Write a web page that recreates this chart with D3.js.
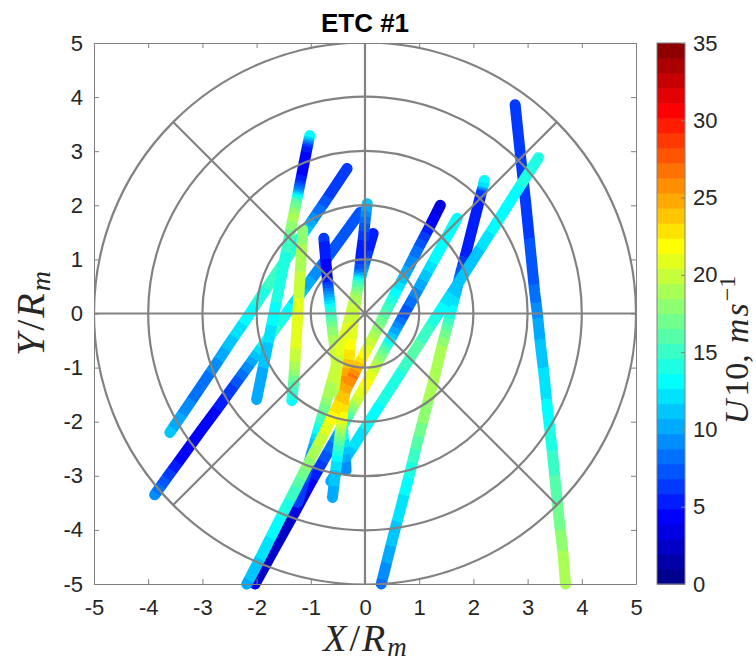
<!DOCTYPE html>
<html>
<head>
<meta charset="utf-8">
<script src="https://cdn.jsdelivr.net/npm/d3@7/dist/d3.min.js"></script>
<style>
  body { margin: 0; background: #ffffff; }
  svg { display: block; }
</style>
</head>
<body>
<svg id="chart" width="756" height="664"></svg>
<script>
// ---- axes, grid and colour scale settings ----
const axisTicks = [-5, -4, -3, -2, -1, 0, 1, 2, 3, 4, 5];
const ringRadii = [1, 2, 3, 4, 5];
const spokeAngles = [0, 45, 90, 135, 180, 225, 270, 315];
const colorTicks = [0, 5, 10, 15, 20, 25, 30, 35];
const colorDomain = [0, 35];
const colorLevels = 36;

// ---- satellite tracks: [X/Rm, Y/Rm, U10 (m/s)] ----
const trackA = [[2.77,3.86,6],[2.86,3.0,6],[2.97,2.0,6.5],[3.07,1.0,7],[3.13,0.4,8],[3.18,0.0,9.5],[3.24,-0.6,11],[3.31,-1.2,12],[3.37,-1.8,13],[3.45,-2.5,14.5],[3.52,-3.2,16],[3.58,-3.8,17],[3.65,-4.4,18.5],[3.70,-5.0,19]];
const trackB = [[3.20,2.88,14],[2.76,2.2,13.5],[2.38,1.6,13],[2.00,1.0,11],[1.68,0.5,11],[1.42,0.1,13],[1.16,-0.3,15],[0.91,-0.7,16],[0.59,-1.2,14],[0.20,-1.8,13.5],[-0.18,-2.4,12],[-0.44,-2.8,10.5],[-0.63,-3.1,10]];
const trackC = [[2.20,2.46,13],[2.18,2.35,12],[2.15,2.25,6],[2.01,1.7,5],[1.86,1.1,5.5],[1.75,0.7,8],[1.68,0.4,11],[1.60,0.1,13],[1.50,-0.3,16.5],[1.42,-0.6,18.5],[1.25,-1.3,19],[1.09,-1.9,18],[0.96,-2.4,16],[0.84,-2.9,14],[0.71,-3.4,12.5],[0.50,-4.2,11],[0.30,-5.0,8.5]];
const trackD = [[1.39,2.0,3],[1.19,1.6,5],[0.98,1.2,8],[0.78,0.8,10],[0.57,0.4,13],[0.37,0.0,16],[0.17,-0.4,19],[-0.04,-0.8,22],[-0.22,-1.15,26.5],[-0.40,-1.5,24],[-0.60,-1.9,22],[-0.80,-2.3,20],[-1.06,-2.8,18],[-1.31,-3.3,15],[-1.57,-3.8,13.5],[-1.87,-4.4,12],[-2.18,-5.0,10.5]];
const trackE = [[1.70,1.76,13],[1.28,1.0,13],[1.01,0.5,10],[0.73,0.0,7],[0.51,-0.4,11],[0.37,-0.65,16],[0.18,-1.0,20],[0.02,-1.3,22],[-0.15,-1.6,20],[-0.37,-2.0,14],[-0.56,-2.35,9],[-0.76,-2.7,7],[-1.04,-3.2,4],[-1.31,-3.7,3],[-1.70,-4.4,2],[-2.03,-5.0,3]];
const trackF = [[0.15,1.48,5],[0.04,1.1,6],[-0.07,0.7,12],[-0.16,0.4,19],[-0.26,0.0,20],[-0.40,-0.5,21],[-0.54,-1.0,20],[-0.68,-1.5,19],[-0.82,-2.0,15],[-0.96,-2.5,10],[-1.10,-3.0,7],[-1.24,-3.49,6]];
const trackG = [[0.04,2.03,11],[0.00,1.7,8],[-0.03,1.4,6],[-0.07,1.1,5],[-0.10,0.8,8],[-0.13,0.6,15],[-0.16,0.3,19],[-0.20,0.0,20],[-0.25,-0.4,21],[-0.29,-0.8,23],[-0.34,-1.2,25.5],[-0.39,-1.6,24],[-0.43,-2.0,21],[-0.48,-2.4,16],[-0.53,-2.8,12],[-0.60,-3.4,10]];
const trackH = [[-1.02,3.29,13.5],[-1.06,3.1,6],[-1.10,2.9,4],[-1.18,2.5,5],[-1.22,2.3,9],[-1.26,2.1,16],[-1.32,1.8,19],[-1.36,1.6,18],[-1.42,1.3,15],[-1.50,0.9,14],[-1.60,0.4,14],[-1.70,-0.1,13],[-1.80,-0.6,11.5],[-1.90,-1.1,10.5],[-2.00,-1.59,10]];
const trackI = [[-0.33,2.68,6],[-0.65,2.2,6.5],[-0.92,1.8,9],[-1.19,1.4,13],[-1.39,1.1,15],[-1.66,0.7,15.5],[-1.93,0.3,14],[-2.19,-0.1,13],[-2.53,-0.6,11],[-2.79,-1.0,9],[-3.06,-1.4,8],[-3.33,-1.8,9.5],[-3.60,-2.2,11]];
const trackJ = [[-0.76,1.39,6],[-0.73,1.05,5],[-0.70,0.7,4],[-0.67,0.4,9],[-0.64,0.1,14],[-0.60,-0.3,18],[-0.55,-0.7,20],[-0.51,-1.1,21],[-0.47,-1.5,19],[-0.43,-1.9,16],[-0.40,-2.3,13],[-0.36,-2.7,10],[-0.35,-2.9,9]];
const trackK = [[-0.09,1.87,7],[-0.43,1.4,7],[-0.72,1.0,8],[-1.09,0.5,10.5],[-1.38,0.1,13],[-1.67,-0.3,15],[-1.89,-0.6,13],[-2.10,-0.9,10],[-2.39,-1.3,7],[-2.68,-1.7,5],[-3.05,-2.2,4],[-3.41,-2.7,4.5],[-3.63,-3.0,6.5],[-3.88,-3.35,9]];
const trackL = [[-1.15,1.55,18],[-1.18,1.0,19],[-1.21,0.5,20],[-1.24,0.0,21],[-1.27,-0.5,21],[-1.30,-1.0,19],[-1.32,-1.3,16],[-1.35,-1.61,13.5]];

// drawing order (later tracks sit on top)
const tracks = [trackA, trackC, trackB, trackI, trackK, trackH, trackL, trackE, trackJ, trackF, trackG, trackD];

// ---- layout ----
const plot = { left: 94, right: 636, top: 43, bottom: 584 };
const cbar = { left: 657, right: 685, top: 43, bottom: 584 };
const gridColor = "#828282";
const axisColor = "#808080";
const textColor = "#262626";

const svg = d3.select("#chart");
const defs = svg.append("defs");

const x = d3.scaleLinear().domain([-5, 5]).range([plot.left, plot.right]);
const y = d3.scaleLinear().domain([-5, 5]).range([plot.bottom, plot.top]);

// MATLAB-style jet(m) colormap
function jetColors(m) {
  const n = Math.ceil(m / 4);
  const u = [];
  for (let i = 1; i <= n; i++) u.push(i / n);
  for (let i = 1; i < n; i++) u.push(1);
  for (let i = n; i >= 1; i--) u.push(i / n);
  const g0 = Math.ceil(n / 2) - (m % 4 === 1 ? 1 : 0);
  const cols = Array.from({ length: m }, () => [0, 0, 0]);
  u.forEach((val, i) => {
    const gi = g0 + i + 1, ri = gi + n, bi = gi - n;
    if (gi >= 1 && gi <= m) cols[gi - 1][1] = val;
    if (ri >= 1 && ri <= m) cols[ri - 1][0] = val;
    if (bi >= 1 && bi <= m) cols[bi - 1][2] = val;
  });
  return cols.map(c => d3.rgb(c[0] * 255, c[1] * 255, c[2] * 255).formatHex());
}
const palette = jetColors(colorLevels);
const span = colorDomain[1] - colorDomain[0];
const level = v => Math.max(0, Math.min(colorLevels - 1, Math.floor((v - colorDomain[0]) / span * colorLevels)));
const boundary = k => colorDomain[0] + k * span / colorLevels;

// ---- clip for the plotting box ----
defs.append("clipPath").attr("id", "plotClip")
  .append("rect")
  .attr("x", plot.left).attr("y", plot.top)
  .attr("width", plot.right - plot.left).attr("height", plot.bottom - plot.top);

// ---- tracks, coloured along their length with stepped jet colours ----
const line = d3.line().x(d => x(d[0])).y(d => y(d[1]));
const trackLayer = svg.append("g");

tracks.forEach((trk, ti) => {
  const pts = trk.map(d => [x(d[0]), y(d[1]), d[2]]);
  const p0 = pts[0], pn = pts[pts.length - 1];
  const vx = pn[0] - p0[0], vy = pn[1] - p0[1];
  const len2 = vx * vx + vy * vy;
  const ts = pts.map(p => Math.max(0, Math.min(1, ((p[0] - p0[0]) * vx + (p[1] - p0[1]) * vy) / len2)));
  const stops = [{ t: ts[0], c: palette[level(trk[0][2])] }];
  for (let i = 0; i < trk.length - 1; i++) {
    const v0 = trk[i][2], v1 = trk[i + 1][2];
    const L0 = level(v0), L1 = level(v1);
    const frac = b => ts[i] + (b - v0) / (v1 - v0) * (ts[i + 1] - ts[i]);
    if (L1 > L0) {
      for (let k = L0 + 1; k <= L1; k++) {
        const t = frac(boundary(k));
        stops.push({ t, c: palette[k - 1] }, { t, c: palette[k] });
      }
    } else if (L1 < L0) {
      for (let k = L0; k >= L1 + 1; k--) {
        const t = frac(boundary(k));
        stops.push({ t, c: palette[k] }, { t, c: palette[k - 1] });
      }
    }
  }
  stops.push({ t: ts[ts.length - 1], c: palette[level(trk[trk.length - 1][2])] });

  const grad = defs.append("linearGradient")
    .attr("id", "trackGrad" + ti)
    .attr("gradientUnits", "userSpaceOnUse")
    .attr("x1", p0[0]).attr("y1", p0[1])
    .attr("x2", pn[0]).attr("y2", pn[1]);
  grad.selectAll("stop").data(stops).join("stop")
    .attr("offset", d => d.t)
    .attr("stop-color", d => d.c);

  trackLayer.append("path")
    .datum(trk)
    .attr("d", line)
    .attr("fill", "none")
    .attr("stroke", `url(#trackGrad${ti})`)
    .attr("stroke-width", 11)
    .attr("stroke-linecap", "round")
    .attr("stroke-linejoin", "round");
});

// ---- polar grid drawn over the tracks ----
const grid = svg.append("g").attr("clip-path", "url(#plotClip)");
grid.selectAll("circle.ring").data(ringRadii).join("circle")
  .attr("class", "ring")
  .attr("cx", x(0)).attr("cy", y(0))
  .attr("r", d => x(d) - x(0))
  .attr("fill", "none")
  .attr("stroke", gridColor)
  .attr("stroke-width", 2.2);
const rMax = d3.max(ringRadii);
grid.selectAll("line.spoke").data(spokeAngles).join("line")
  .attr("class", "spoke")
  .attr("x1", x(0)).attr("y1", y(0))
  .attr("x2", d => x(rMax * Math.cos(d * Math.PI / 180)))
  .attr("y2", d => y(rMax * Math.sin(d * Math.PI / 180)))
  .attr("stroke", gridColor)
  .attr("stroke-width", 2.2);

// ---- axes (box with inward ticks on all sides) ----
function styleAxis(g) {
  g.selectAll("path.domain").attr("stroke", axisColor).attr("stroke-width", 1);
  g.selectAll(".tick line").attr("stroke", axisColor).attr("stroke-width", 1);
  g.selectAll(".tick text")
    .attr("fill", textColor)
    .style("font-family", "'Liberation Sans', Arial, sans-serif")
    .style("font-size", "22px");
}
const fmt = d => (d < 0 ? "-" + Math.abs(d) : String(d));

svg.append("g")
  .attr("transform", `translate(0,${plot.bottom})`)
  .call(d3.axisBottom(x).tickValues(axisTicks).tickFormat(fmt).tickSizeInner(-5).tickSizeOuter(0).tickPadding(15))
  .call(styleAxis);
svg.append("g")
  .attr("transform", `translate(0,${plot.top})`)
  .call(d3.axisTop(x).tickValues(axisTicks).tickFormat("").tickSizeInner(-5).tickSizeOuter(0))
  .call(styleAxis);
svg.append("g")
  .attr("transform", `translate(${plot.left},0)`)
  .call(d3.axisLeft(y).tickValues(axisTicks).tickFormat(fmt).tickSizeInner(-5).tickSizeOuter(0).tickPadding(11))
  .call(styleAxis);
svg.append("g")
  .attr("transform", `translate(${plot.right},0)`)
  .call(d3.axisRight(y).tickValues(axisTicks).tickFormat("").tickSizeInner(-5).tickSizeOuter(0))
  .call(styleAxis);

// ---- title ----
svg.append("text")
  .attr("x", (plot.left + plot.right) / 2)
  .attr("y", 32)
  .attr("text-anchor", "middle")
  .attr("fill", "#000")
  .style("font-family", "'Liberation Sans', Arial, sans-serif")
  .style("font-weight", "bold")
  .style("font-size", "26px")
  .text("ETC #1");

// ---- math-style axis labels ----
function mathLabel(sel, main, size) {
  sel.style("font-family", "'Liberation Serif', 'Times New Roman', serif")
    .style("font-size", size + "px")
    .attr("fill", textColor)
    .attr("text-anchor", "middle");
  sel.append("tspan").style("font-style", "italic").text(main);
  sel.append("tspan").attr("dx", 3).text("/");
  sel.append("tspan").attr("dx", 2).style("font-style", "italic").text("R");
  sel.append("tspan").attr("dx", 2).attr("dy", size * 0.14).style("font-style", "italic").style("font-size", Math.round(size * 0.7) + "px").text("m");
}
svg.append("text")
  .attr("x", (plot.left + plot.right) / 2)
  .attr("y", 651)
  .call(mathLabel, "X", 38);
svg.append("text")
  .attr("transform", `translate(44,${(plot.top + plot.bottom) / 2}) rotate(-90)`)
  .call(mathLabel, "Y", 40);

// ---- colour bar ----
const cy = d3.scaleLinear().domain(colorDomain).range([cbar.bottom, cbar.top]);
const cb = svg.append("g");
cb.selectAll("rect").data(palette).join("rect")
  .attr("x", cbar.left)
  .attr("width", cbar.right - cbar.left)
  .attr("y", (d, i) => cy(boundary(i + 1)))
  .attr("height", (d, i) => cy(boundary(i)) - cy(boundary(i + 1)) + 0.5)
  .attr("fill", d => d);
cb.append("rect")
  .attr("x", cbar.left).attr("y", cbar.top)
  .attr("width", cbar.right - cbar.left).attr("height", cbar.bottom - cbar.top)
  .attr("fill", "none").attr("stroke", axisColor).attr("stroke-width", 1);
svg.append("g")
  .attr("transform", `translate(${cbar.right},0)`)
  .call(d3.axisRight(cy).tickValues(colorTicks).tickSizeInner(-4).tickSizeOuter(0).tickPadding(8))
  .call(styleAxis)
  .call(g => g.select("path.domain").remove());

// colour bar label: U10, m s^-1
const cbl = svg.append("text")
  .attr("transform", `translate(748,350) rotate(-90)`)
  .attr("text-anchor", "middle")
  .attr("fill", textColor)
  .style("font-family", "'Liberation Serif', 'Times New Roman', serif")
  .style("font-size", "34px");
cbl.append("tspan").style("font-style", "italic").text("U");
cbl.append("tspan").attr("dx", 3).text("10,");
cbl.append("tspan").attr("dx", 11).style("font-style", "italic").text("m");
cbl.append("tspan").attr("dx", 2).style("font-style", "italic").text("s");
cbl.append("tspan").attr("dy", -13).attr("dx", 2).style("font-size", "24px").text("\u22121");
</script>
</body>
</html>
